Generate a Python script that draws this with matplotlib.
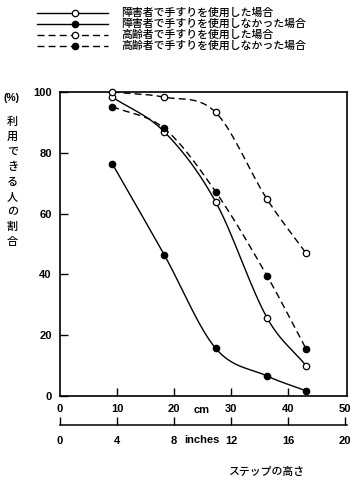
import numpy as np
import matplotlib
matplotlib.use("Agg")
import matplotlib.pyplot as plt
from matplotlib.lines import Line2D

plt.rcParams['font.family'] = ['Noto Sans CJK JP', 'DejaVu Sans']

# ---- data ----
step_cm = [9.2, 18.3, 27.3, 36.3, 43.2]
disabled_with = [98.3, 86.9, 63.9, 25.8, 9.9]
disabled_without = [76.3, 46.4, 15.7, 6.6, 1.7]
elderly_with = [100.0, 98.3, 93.3, 64.8, 46.9]
elderly_without = [95.2, 88.0, 67.2, 39.6, 15.4]

series_labels = ["障害者で手すりを使用した場合",
                 "障害者で手すりを使用しなかった場合",
                 "高齢者で手すりを使用した場合",
                 "高齢者で手すりを使用しなかった場合"]
y_ticks = [0, 20, 40, 60, 80, 100]
cm_ticks = [0, 10, 20, 30, 40, 50]
inch_labels = ["0", "4", "8", "12", "16", "20"]
ylabel_chars = "利用できる人の割合"
xlabel_text = "ステップの高さ"

def smooth(x, y, n=60):
    # cardinal (Catmull-Rom style) cubic Hermite through the points
    x = np.asarray(x, float); y = np.asarray(y, float)
    h = np.diff(x)
    m = np.zeros_like(y)
    m[0] = (y[1] - y[0]) / h[0]
    m[-1] = (y[-1] - y[-2]) / h[-1]
    for k in range(1, len(x) - 1):
        m[k] = (y[k+1] - y[k-1]) / (x[k+1] - x[k-1])
    xs, ys = [], []
    for k in range(len(x) - 1):
        t = np.linspace(0, 1, n)
        h00 = 2*t**3 - 3*t**2 + 1; h10 = t**3 - 2*t**2 + t
        h01 = -2*t**3 + 3*t**2; h11 = t**3 - t**2
        xs.append(x[k] + t*h[k])
        ys.append(h00*y[k] + h10*h[k]*m[k] + h01*y[k+1] + h11*h[k]*m[k+1])
    return np.concatenate(xs), np.concatenate(ys)

W, H = 358, 480
fig = plt.figure(figsize=(W/100, H/100), dpi=100)
L, R, T, B = 60, 347, 92, 396
ax = fig.add_axes([L/W, 1-B/H, (R-L)/W, (B-T)/H])
xmax = 50 * (R - L) / 285.0
ax.set_xlim(0, xmax)
ax.set_ylim(0, 100)

dash = (0, (5, 3))
styles = [
    (disabled_with, '-', 'white'),
    (disabled_without, '-', 'black'),
    (elderly_with, dash, 'white'),
    (elderly_without, dash, 'black'),
]
for vals, ls, fc in styles:
    sx, sy = smooth(step_cm, vals)
    ax.plot(sx, np.minimum(sy, 100), color='black', lw=1.0, linestyle=ls, zorder=2)
    ax.plot(step_cm, vals, 'o', ms=4.6, mfc=fc, mec='black', mew=0.9, zorder=3,
            clip_on=False)

for s in ax.spines.values():
    s.set_linewidth(1.2)
ax.set_xticks([10, 20, 30, 40])
ax.set_xticklabels([])
ax.set_yticks(y_ticks)
ax.set_yticklabels([str(v) for v in y_ticks], fontfamily='Liberation Sans',
                   fontweight='bold', fontsize=8)
ax.tick_params(axis='both', direction='in', length=6, width=1.0, pad=6)

# lower scale axis
sy_line = 425
ax2 = fig.add_axes([L/W, 1-sy_line/H, (R-L)/W, 0])
ax2.set_xlim(0, xmax)
for k in ['left', 'right', 'top']:
    ax2.spines[k].set_visible(False)
ax2.spines['bottom'].set_linewidth(1.1)
ax2.set_yticks([])
ax2.set_xticks(cm_ticks)
ax2.set_xticklabels(inch_labels, fontfamily='Liberation Sans', fontweight='bold',
                    fontsize=8)
ax2.tick_params(axis='x', direction='in', length=6, width=1.0, pad=8)
sec = ax2.secondary_xaxis('top')
sec.set_xticks(cm_ticks)
sec.set_xticklabels([str(v) for v in cm_ticks], fontfamily='Liberation Sans',
                    fontweight='bold', fontsize=8)
sec.tick_params(axis='x', length=0, pad=8)
sec.spines['top'].set_visible(False)

# overlay for annotations
ov = fig.add_axes([0, 0, 1, 1])
ov.set_xlim(0, W); ov.set_ylim(H, 0); ov.axis('off')
ov.text(202, 410, "cm", ha='center', va='center', fontsize=8,
        fontfamily='Liberation Sans', fontweight='bold')
ov.text(202, 440, "inches", ha='center', va='center', fontsize=8,
        fontfamily='Liberation Sans', fontweight='bold')
ov.text(266, 472, xlabel_text, ha='center', va='center', fontsize=7.8,
        fontweight='medium')
ov.text(11, 98, "(%)", ha='center', va='center', fontsize=7.5,
        fontfamily='Liberation Sans', fontweight='bold')
for i, ch in enumerate(ylabel_chars):
    ov.text(12.5, 122 + i*15, ch, ha='center', va='center', fontsize=8,
            fontweight='medium')

rows = [13, 24, 35, 46]
for (vals, ls, fc), lab, yy in zip(styles, series_labels, rows):
    ov.add_line(Line2D([37, 108], [yy, yy], color='black', lw=1.0, linestyle=ls))
    ov.plot([75], [yy], 'o', ms=4.6, mfc=fc, mec='black', mew=0.9)
    ov.text(121, yy, lab, ha='left', va='center', fontsize=7.8,
            fontweight='medium')

fig.savefig("out.png", dpi=100)
